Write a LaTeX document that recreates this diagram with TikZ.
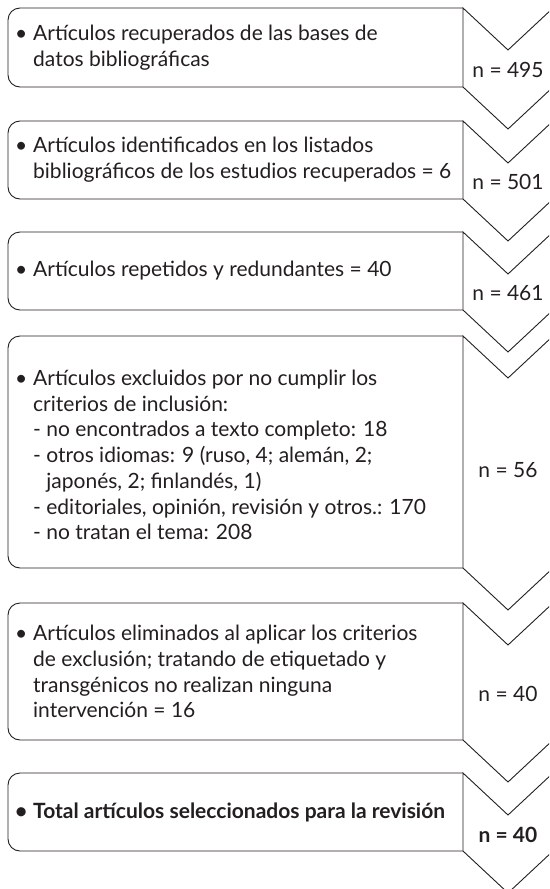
\documentclass[tikz,border=0pt]{standalone}
\usepackage{fontspec}
\setmainfont{Lato}
\definecolor{ink}{HTML}{231F20}
\begin{document}
\begin{tikzpicture}[x=1pt,y=-1pt,
  boxline/.style={draw=ink,line width=0.9pt,rounded corners=12pt},
  chev/.style={draw=ink,line width=0.9pt,fill=white,line join=miter},
  txt/.style={anchor=west,align=left,inner sep=0pt,text=ink,font=\fontsize{21}{25.7}\selectfont},
  num/.style={anchor=center,inner sep=0pt,text=ink,font=\fontsize{21}{25.7}\selectfont}]
\useasboundingbox (0,0) rectangle (549,889);
\clip (0,0) rectangle (549,889);
\fill[white] (0,0) rectangle (549,889);
% tops and bottoms
\foreach \t/\b in {8/87,121/199,232/310,336/568,603/740,773/851}{
  \draw[boxline] (463,\t) -- (8,\t) -- (8,\b) -- (463,\b);
  \draw[chev] (463,\t) -- (508,\t+42) -- (553,\t) -- (553,\b) -- (508,\b+42) -- (463,\b) -- cycle;
}
\node[txt] (t1) at (33,47.5) {\llap{\textbullet\hspace{6pt}}Artículos recuperados de las bases de\\datos bibliográficas};
\node[txt] (t2) at (33,160) {\llap{\textbullet\hspace{6pt}}Artículos identificados en los listados\\bibliográficos de los estudios recuperados = 6};
\node[txt] (t3) at (33,271) {\llap{\textbullet\hspace{6pt}}Artículos repetidos y redundantes = 40};
\node[txt] (t4) at (33,455) {\llap{\textbullet\hspace{6pt}}Artículos excluidos por no cumplir los\\criterios de inclusión:\\- no encontrados a texto completo: 18\\- otros idiomas: 9 (ruso, 4; alemán, 2;\\\phantom{- }japonés, 2; finlandés, 1)\\- editoriales, opinión, revisión y otros.: 170\\- no tratan el tema: 208};
\node[txt] (t5) at (33,671.5) {\llap{\textbullet\hspace{6pt}}Artículos eliminados al aplicar los criterios\\de exclusión; tratando de etiquetado y\\transgénicos no realizan ninguna\\intervención = 16};
\node[txt,font=\fontsize{21}{25.7}\selectfont\bfseries] (t6) at (33,812) {\llap{\textbullet\hspace{6pt}}Total artículos seleccionados para la revisión};
\node[num] (n1) at (508,70) {n = 495};
\node[num] (n2) at (508,182) {n = 501};
\node[num] (n3) at (508,293) {n = 461};
\node[num] (n4) at (508,470) {n = 56};
\node[num] (n5) at (508,694) {n = 40};
\node[num,font=\fontsize{21}{25.7}\selectfont\bfseries] (n6) at (508,835) {n = 40};
\end{tikzpicture}
\end{document}
